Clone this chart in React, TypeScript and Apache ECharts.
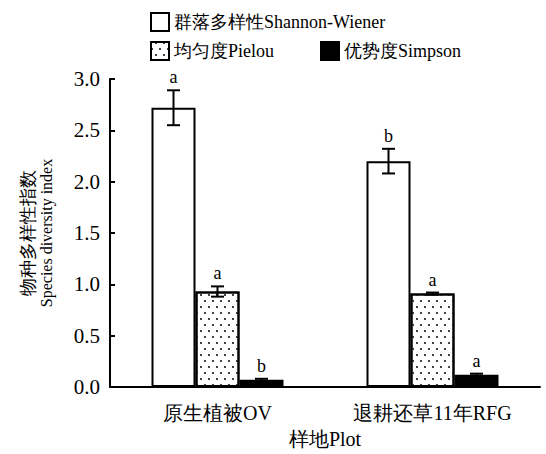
import React, { useEffect, useRef } from "react";
import * as echarts from "echarts";

const categories = ["原生植被OV", "退耕还草11年RFG"];
const seriesNames = ["群落多样性Shannon-Wiener", "均匀度Pielou", "优势度Simpson"];
const shannon = [2.72, 2.2];
const shannonErr = [0.17, 0.12];
const pielou = [0.93, 0.91];
const pielouErr = [0.05, 0.01];
const simpson = [0.07, 0.12];
const simpsonErr = [0.01, 0.01];
const letters = [
  ["a", "b"],
  ["a", "a"],
  ["b", "a"],
];
const yTicks = [0, 0.5, 1.0, 1.5, 2.0, 2.5, 3.0];
const yNameCn = "物种多样性指数";
const yNameEn = "Species diversity index";

const FONT = "Liberation Serif, serif";
const BAR_W = 44;

export default function App() {
  const ref = useRef<HTMLDivElement>(null);
  useEffect(() => {
    if (!ref.current) return;
    const chart = echarts.init(ref.current, null, { renderer: "svg" });
    const means = [shannon, pielou, simpson];
    const errs = [shannonErr, pielouErr, simpsonErr];
    const errData: any[] = [];
    const errLetters: string[] = [];
    for (let s = 0; s < 3; s++) {
      for (let c = 0; c < categories.length; c++) {
        errData.push([c, s, means[s][c], errs[s][c]]);
        errLetters.push(letters[s][c]);
      }
    }
    const border = { borderColor: "#000", borderWidth: 2 };
    const legendText = { fontFamily: FONT, fontSize: 18, color: "#000" };
    chart.setOption({
      animation: false,
      backgroundColor: "#fff",
      textStyle: { fontFamily: FONT, color: "#000" },
      legend: [
        {
          data: [seriesNames[0]],
          left: 150,
          top: 12,
          padding: 0,
          itemWidth: 18,
          itemHeight: 18,
          itemGap: 30,
          icon: "rect",
          textStyle: legendText,
        },
        {
          data: [seriesNames[1], seriesNames[2]],
          left: 150,
          top: 41,
          padding: 0,
          itemWidth: 18,
          itemHeight: 18,
          itemGap: 46,
          icon: "rect",
          textStyle: legendText,
        },
      ],
      grid: { left: 110, right: 6, top: 79, bottom: 66 },
      xAxis: {
        type: "category",
        data: categories,
        name: "样地Plot",
        nameLocation: "middle",
        nameGap: 42,
        nameTextStyle: { fontFamily: FONT, fontSize: 20, color: "#000" },
        axisLine: { lineStyle: { color: "#000", width: 2 } },
        axisTick: { inside: true, length: 5, lineStyle: { color: "#000", width: 2 } },
        axisLabel: { fontFamily: FONT, fontSize: 20, color: "#000", margin: 16 },
      },
      yAxis: {
        type: "value",
        min: 0,
        max: 3,
        interval: 0.5,
        name: "{cn|" + yNameCn + "}\n{en|" + yNameEn + "}",
        nameLocation: "middle",
        nameGap: 54,
        nameTextStyle: {
          fontFamily: FONT,
          color: "#000",
          rich: {
            cn: { fontFamily: FONT, fontSize: 18, lineHeight: 19, color: "#000" },
            en: { fontFamily: FONT, fontSize: 16, lineHeight: 19, color: "#000" },
          },
        },
        splitLine: { show: false },
        axisLine: { show: true, lineStyle: { color: "#000", width: 2 } },
        axisTick: { show: true, inside: true, length: 5, lineStyle: { color: "#000", width: 2 } },
        axisLabel: {
          fontFamily: FONT,
          fontSize: 21,
          color: "#000",
          margin: 10,
          formatter: (v: number) => (yTicks.includes(v) ? v.toFixed(1) : ""),
        },
      },
      series: [
        {
          name: seriesNames[0],
          type: "bar",
          data: shannon,
          barWidth: BAR_W,
          barGap: "0%",
          itemStyle: { color: "#fff", ...border },
        },
        {
          name: seriesNames[1],
          type: "bar",
          data: pielou,
          barWidth: BAR_W,
          barGap: "0%",
          itemStyle: {
            color: "#fff",
            ...border,
            decal: {
              symbol: "rect",
              symbolSize: 1,
              color: "#444",
              dashArrayX: [[1.5, 5.5], [0, 3.5, 1.5, 2]],
              dashArrayY: [1.5, 3.5],
              rotation: 0,
            },
          },
        },
        {
          name: seriesNames[2],
          type: "bar",
          data: simpson,
          barWidth: BAR_W,
          barGap: "0%",
          itemStyle: { color: "#000", ...border },
        },
        {
          type: "custom",
          data: errData,
          encode: { x: 0, y: 2 },
          z: 10,
          silent: true,
          renderItem: (params: any, api: any) => {
            const c = api.value(0);
            const s = api.value(1);
            const m = api.value(2);
            const e = api.value(3);
            const top = api.coord([c, m + e]);
            const bot = api.coord([c, m - e]);
            const x = top[0] + (s - 1) * BAR_W;
            const cap = 6.5;
            const ls = { stroke: "#000", lineWidth: 2 };
            return {
              type: "group",
              children: [
                { type: "line", shape: { x1: x, y1: top[1], x2: x, y2: bot[1] }, style: ls },
                { type: "line", shape: { x1: x - cap, y1: top[1], x2: x + cap, y2: top[1] }, style: ls },
                { type: "line", shape: { x1: x - cap, y1: bot[1], x2: x + cap, y2: bot[1] }, style: ls },
                {
                  type: "text",
                  style: {
                    text: errLetters[params.dataIndex],
                    x: x,
                    y: top[1] - 4,
                    align: "center",
                    verticalAlign: "bottom",
                    textAlign: "center",
                    textVerticalAlign: "bottom",
                    font: "18px " + FONT,
                    fill: "#000",
                  },
                },
              ],
            };
          },
        },
      ],
    });
    return () => chart.dispose();
  }, []);
  return (
    <div
      ref={ref}
      style={{ position: "absolute", left: 0, top: 0, width: 546, height: 454 }}
    />
  );
}
